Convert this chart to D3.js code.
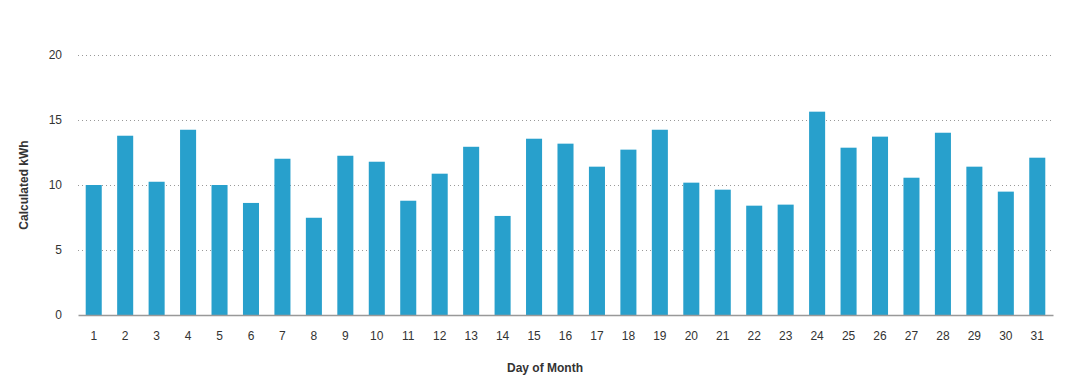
<!DOCTYPE html>
<html><head><meta charset="utf-8">
<script src="https://cdn.jsdelivr.net/npm/d3@7"></script>
<style>
body{margin:0;background:#fff;}
svg{display:block;font-family:"Liberation Sans",Arial,sans-serif;}
</style></head>
<body>
<svg id="chart" width="1074" height="389"></svg>
<script>
const days = d3.range(1, 32).map(String);
const kwh = [10.0, 13.79, 10.25, 14.25, 10.0, 8.62, 12.02, 7.48, 12.25, 11.79, 8.79, 10.87, 12.94,
  7.62, 13.56, 13.18, 11.41, 12.72, 14.25, 10.18, 9.64, 8.41, 8.49, 15.64, 12.87, 13.72, 10.56,
  14.02, 11.41, 9.49, 12.1];
const yTicks = [0, 5, 10, 15, 20];
const xTitle = "Day of Month";
const yTitle = "Calculated kWh";

(function () {
const svg = d3.select("#chart");
const mLeft = 78, mRight = 1053, mTop = 55, mBottom = 315;

const x = d3.scaleBand().domain(days).range([mLeft, mRight]).paddingInner(0.49).paddingOuter(0.245);
const y = d3.scaleLinear().domain([0, 20]).range([mBottom, mTop]);

// gridlines
svg.append("g").selectAll("line").data(yTicks.filter(d => d > 0)).join("line")
  .attr("x1", mLeft).attr("x2", mRight)
  .attr("y1", d => Math.round(y(d)) + 0.5).attr("y2", d => Math.round(y(d)) + 0.5)
  .attr("stroke", "#999").attr("stroke-width", 1).attr("stroke-dasharray", "1,3");

// bars
svg.append("g").selectAll("rect").data(kwh).join("rect")
  .attr("x", (d, i) => x(days[i]))
  .attr("width", x.bandwidth())
  .attr("y", d => y(d))
  .attr("height", d => y(0) - y(d))
  .attr("fill", "#28a0cc");

// y axis labels
const yAxis = svg.append("g").attr("transform", `translate(${mLeft - 16},0)`)
  .call(d3.axisLeft(y).tickValues(yTicks).tickSize(0).tickPadding(0));
yAxis.select(".domain").remove();
yAxis.selectAll("text").attr("font-size", 12).attr("fill", "#333")
  .attr("font-family", "Liberation Sans, Arial, sans-serif");

// x axis
const xAxis = svg.append("g").attr("transform", `translate(0,${mBottom})`)
  .call(d3.axisBottom(x).tickSize(0).tickPadding(16));
xAxis.select(".domain").attr("stroke", "#999").attr("stroke-width", 1.5);
xAxis.selectAll("text").attr("font-size", 12).attr("fill", "#333")
  .attr("font-family", "Liberation Sans, Arial, sans-serif");

// titles
svg.append("text").attr("x", 545).attr("y", 372).attr("text-anchor", "middle")
  .attr("font-size", 12).attr("font-weight", "bold").attr("fill", "#333").text(xTitle);
svg.append("text").attr("transform", "translate(28,185) rotate(-90)").attr("text-anchor", "middle")
  .attr("font-size", 12).attr("font-weight", "bold").attr("fill", "#333").text(yTitle);
})();
</script>
</body></html>
